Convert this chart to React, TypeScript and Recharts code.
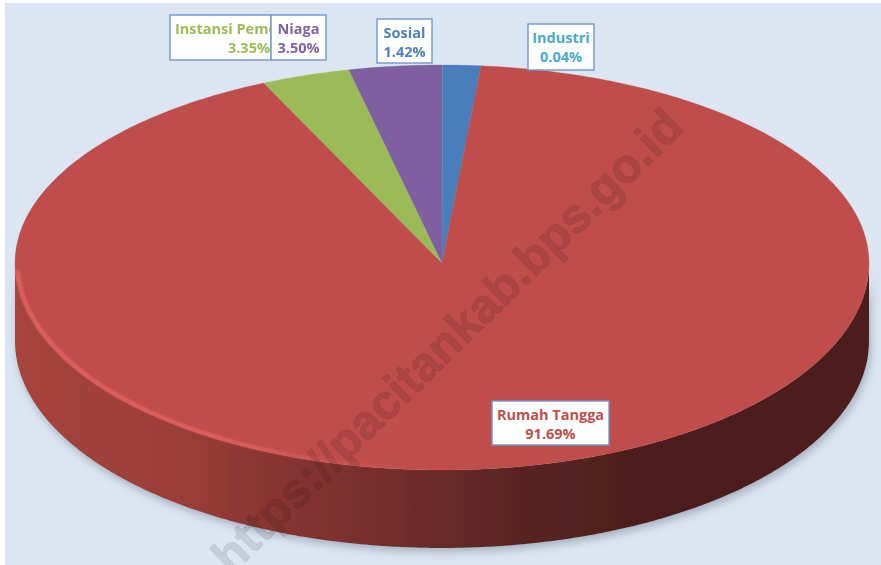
import React from "react";
import { PieChart, Pie } from "recharts";

const categories = ["Industri", "Sosial", "Rumah Tangga", "Instansi Pemerintah", "Niaga"];
const shares = [0.04, 1.42, 91.69, 3.35, 3.5];
const shareLabels = ["0.04%", "1.42%", "91.69%", "3.35%", "3.50%"];
const sliceColors = ["#4bacc6", "#4a7ebb", "#be4d4b", "#9bbb59", "#7f5f9f"];
const labelColors = ["#4bacc6", "#4f81bd", "#c0504d", "#9bbb59", "#8064a2"];

// label boxes: left, top, width, height (same order as categories)
const labelBoxes = [
  [528, 24, 66, 46],
  [377, 19, 55, 44],
  [492, 401, 117, 44],
  [170, 15, 101, 45],
  [271, 15, 55, 45],
];

const WIDTH = 881;
const HEIGHT = 565;
const CX = 442;
const CY = 263;
const RADIUS = 427;
// the tilted disc is a bit taller in front than behind
const BACK_RY = 198;
const FRONT_RY = 207;
const DEPTH = 78;

const data = categories.map((name, i) => ({ name, value: shares[i], fill: sliceColors[i] }));

const pointAt = (deg: number, cx: number, cy: number, r: number) => {
  const rad = (deg * Math.PI) / 180;
  const s = Math.sin(rad);
  const ry = (s > 0 ? BACK_RY : FRONT_RY) * (r / RADIUS);
  return [cx + r * Math.cos(rad), cy - ry * s];
};

const arcPoints = (from: number, to: number, cx: number, cy: number, r: number) => {
  const pts: number[][] = [];
  const steps = Math.max(2, Math.ceil(Math.abs(from - to) * 2));
  for (let i = 0; i <= steps; i++) {
    pts.push(pointAt(from + ((to - from) * i) / steps, cx, cy, r));
  }
  return pts;
};

const toPath = (pts: number[][]) =>
  pts.map((p, i) => `${i === 0 ? "M" : "L"}${p[0].toFixed(2)} ${p[1].toFixed(2)}`).join(" ");

// flat top of the disc, the slice that covers the front also gets the light rim
const TopSlice = (props: any) => {
  const { cx, cy, outerRadius, startAngle, endAngle, fill } = props;
  const d = `M${cx} ${cy} ` + toPath(arcPoints(startAngle, endAngle, cx, cy, outerRadius)).replace("M", "L") + " Z";
  const hasRim = startAngle > 0 && endAngle < -180;
  return (
    <g>
      <path d={d} fill={fill} stroke={fill} strokeWidth={0.3} />
      {hasRim && (
        <path
          d={toPath(arcPoints(-178, -80, cx, cy - 0.5, outerRadius - 2.5))}
          fill="none"
          stroke="url(#rimShade)"
          strokeWidth={3.5}
          filter="url(#soft)"
        />
      )}
    </g>
  );
};

// front wall, only the part of a slice facing the viewer
const WallSlice = (props: any) => {
  const { cx, cy, outerRadius, startAngle, endAngle } = props;
  const hi = Math.min(startAngle, 0);
  const lo = Math.max(endAngle, -180);
  if (lo >= hi) return null;
  const upper = arcPoints(lo, hi, cx, cy, outerRadius);
  const lower = arcPoints(hi, lo, cx, cy + DEPTH, outerRadius);
  return <path d={toPath(upper.concat(lower)) + " Z"} fill="url(#wallShade)" filter="url(#wallShadow)" />;
};

const BoxLabel = (props: any) => {
  const i = props.index;
  const [x, y, w, h] = labelBoxes[i];
  const color = labelColors[i];
  const clipped = i === 3;
  const mid = x + w / 2;
  return (
    <g fontFamily="'Open Sans', sans-serif" fontWeight={700} fontSize={14.5} fill={color}>
      <clipPath id={`labelClip${i}`}>
        <rect x={x} y={y} width={w} height={h} />
      </clipPath>
      <rect x={x} y={y} width={w} height={h} fill="#ffffff" stroke="#7096cc" strokeWidth={1.4} />
      <g clipPath={`url(#labelClip${i})`}>
        <text x={clipped ? x + 5 : mid} y={y + 18.5} textAnchor={clipped ? "start" : "middle"} stroke="none">
          {categories[i]}
        </text>
        <text x={clipped ? x + w - 1 : mid} y={y + 38} textAnchor={clipped ? "end" : "middle"} stroke="none">
          {shareLabels[i]}
        </text>
      </g>
    </g>
  );
};

export default function App() {
  return (
    <div style={{ position: "absolute", left: 0, top: 0, width: WIDTH, height: HEIGHT, background: "#ffffff", overflow: "hidden" }}>
      <div style={{ position: "absolute", left: 5, top: 3, right: 0, bottom: 0, background: "#dce6f2" }} />
      <div style={{ position: "absolute", left: 0, top: 0, filter: "blur(0.35px)" }}>
        <PieChart width={WIDTH} height={HEIGHT} margin={{ top: 0, right: 0, bottom: 0, left: 0 }}>
          <defs>
            <linearGradient id="wallShade" gradientUnits="userSpaceOnUse" x1={15} y1={0} x2={869} y2={0}>
              <stop offset="0%" stopColor="#a7443f" />
              <stop offset="20%" stopColor="#9a3d38" />
              <stop offset="33%" stopColor="#843330" />
              <stop offset="47%" stopColor="#6e2c2a" />
              <stop offset="60%" stopColor="#582322" />
              <stop offset="72%" stopColor="#4d1f1d" />
              <stop offset="100%" stopColor="#4d1f1d" />
            </linearGradient>
            <linearGradient id="rimShade" gradientUnits="userSpaceOnUse" x1={15} y1={0} x2={410} y2={0}>
              <stop offset="0%" stopColor="#e2625e" />
              <stop offset="50%" stopColor="#e2625e" />
              <stop offset="100%" stopColor="#e2625e" stopOpacity={0} />
            </linearGradient>
            <filter id="wallShadow" x="-5%" y="-10%" width="110%" height="125%">
              <feDropShadow dx={2} dy={4} stdDeviation={4} floodColor="#7f8b9c" floodOpacity={0.6} />
            </filter>
            <filter id="soft" x="-5%" y="-10%" width="110%" height="120%">
              <feGaussianBlur stdDeviation={0.8} />
            </filter>
          </defs>
          <Pie
            data={data}
            dataKey="value"
            nameKey="name"
            cx={CX}
            cy={CY}
            outerRadius={RADIUS}
            startAngle={90}
            endAngle={-270}
            shape={WallSlice}
            isAnimationActive={false}
            legendType="none"
          />
          <Pie
            data={data}
            dataKey="value"
            nameKey="name"
            cx={CX}
            cy={CY}
            outerRadius={RADIUS}
            startAngle={90}
            endAngle={-270}
            shape={TopSlice}
            label={BoxLabel}
            labelLine={false}
            isAnimationActive={false}
            legendType="none"
          />
        </PieChart>
      </div>
      {/* site watermark sits over the whole chart */}
      <svg width={WIDTH} height={HEIGHT} style={{ position: "absolute", left: 0, top: 0, filter: "blur(0.35px)" }}>
        <text
          transform="translate(686 129) rotate(-44.5)"
          textAnchor="end"
          fontFamily="'Liberation Sans', Arial, sans-serif"
          fontWeight={700}
          fontSize={48}
          fill="#000000"
          fillOpacity={0.1}
          stroke="#000000"
          strokeOpacity={0.1}
          strokeWidth={0.8}
          paintOrder="stroke"
        >
          https://pacitankab.bps.go.id
        </text>
      </svg>
    </div>
  );
}
